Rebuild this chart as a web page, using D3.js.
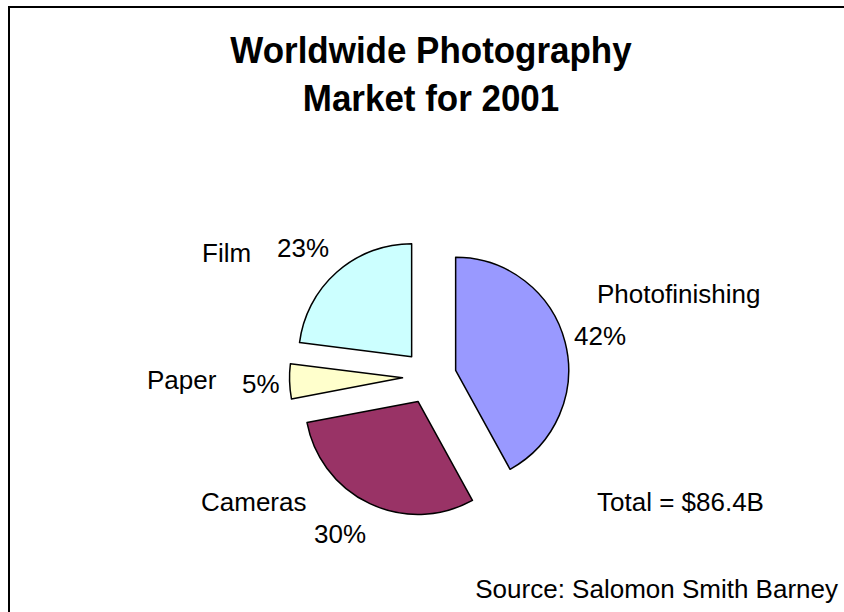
<!DOCTYPE html>
<html>
<head>
<meta charset="utf-8">
<script src="https://cdn.jsdelivr.net/npm/d3@7"></script>
<style>
  body { margin: 0; background: #fff; }
  text { font-family: "Liberation Sans", Arial, sans-serif; fill: #000; }
</style>
</head>
<body>
<div id="chart"></div>
<script>
// données du graphique
const categories = ["Photofinishing", "Cameras", "Paper", "Film"];
const shares = [42, 30, 5, 23];
const colors = ["#9999FF", "#993366", "#FFFFCC", "#CCFFFF"];
const titleLines = ["Worldwide Photography", "Market for 2001"];
const totalLabel = "Total = $86.4B";
const sourceLabel = "Source: Salomon Smith Barney";

const width = 844;
const height = 612;
const cx = 429.5, cy = 377;
const radius = 113;
const explode = 27;

const svg = d3.select("#chart").append("svg")
    .attr("width", width)
    .attr("height", height);

svg.append("rect")
    .attr("width", width)
    .attr("height", height)
    .attr("fill", "#fff");

// cadre (seuls les bords gauche et haut sont visibles)
svg.append("rect")
    .attr("x", 9)
    .attr("y", 7)
    .attr("width", 900)
    .attr("height", 700)
    .attr("fill", "none")
    .attr("stroke", "#000")
    .attr("stroke-width", 2);

// titre (police un peu étroite comme l'original)
svg.append("text")
    .attr("transform", "translate(431,0) scale(0.945,1)")
    .attr("text-anchor", "middle")
    .attr("font-size", 37)
    .attr("font-weight", "bold")
    .selectAll("tspan")
    .data(titleLines)
    .join("tspan")
    .attr("x", 0)
    .attr("y", (d, i) => 63.5 + i * 48)
    .text(d => d);

const pie = d3.pie().sort(null).startAngle(0).endAngle(2 * Math.PI);
const arc = d3.arc().innerRadius(0).outerRadius(radius);
const arcs = pie(shares);

const g = svg.append("g").attr("transform", `translate(${cx},${cy})`);

g.selectAll("path")
    .data(arcs)
    .join("path")
    .attr("transform", d => {
        const a = (d.startAngle + d.endAngle) / 2;
        return `translate(${Math.sin(a) * explode},${-Math.cos(a) * explode})`;
    })
    .attr("d", arc)
    .attr("fill", (d, i) => colors[i])
    .attr("stroke", "#000")
    .attr("stroke-width", 1.5)
    .attr("stroke-linejoin", "round");

// étiquettes : nom de catégorie et pourcentage
const namePos = [[597, 303], [201, 511], [147, 389], [202, 262]];
const pctPos = [[574, 345], [314, 543], [242, 393], [277, 257]];

svg.selectAll(".name")
    .data(categories)
    .join("text")
    .attr("class", "name")
    .attr("x", (d, i) => namePos[i][0])
    .attr("y", (d, i) => namePos[i][1])
    .attr("font-size", 26)
    .text(d => d);

svg.selectAll(".pct")
    .data(shares)
    .join("text")
    .attr("class", "pct")
    .attr("x", (d, i) => pctPos[i][0])
    .attr("y", (d, i) => pctPos[i][1])
    .attr("font-size", 26)
    .text(d => d + "%");

svg.append("text")
    .attr("x", 597)
    .attr("y", 511)
    .attr("font-size", 26)
    .text(totalLabel);

svg.append("text")
    .attr("x", 838)
    .attr("y", 598)
    .attr("text-anchor", "end")
    .attr("font-size", 26)
    .text(sourceLabel);
</script>
</body>
</html>
